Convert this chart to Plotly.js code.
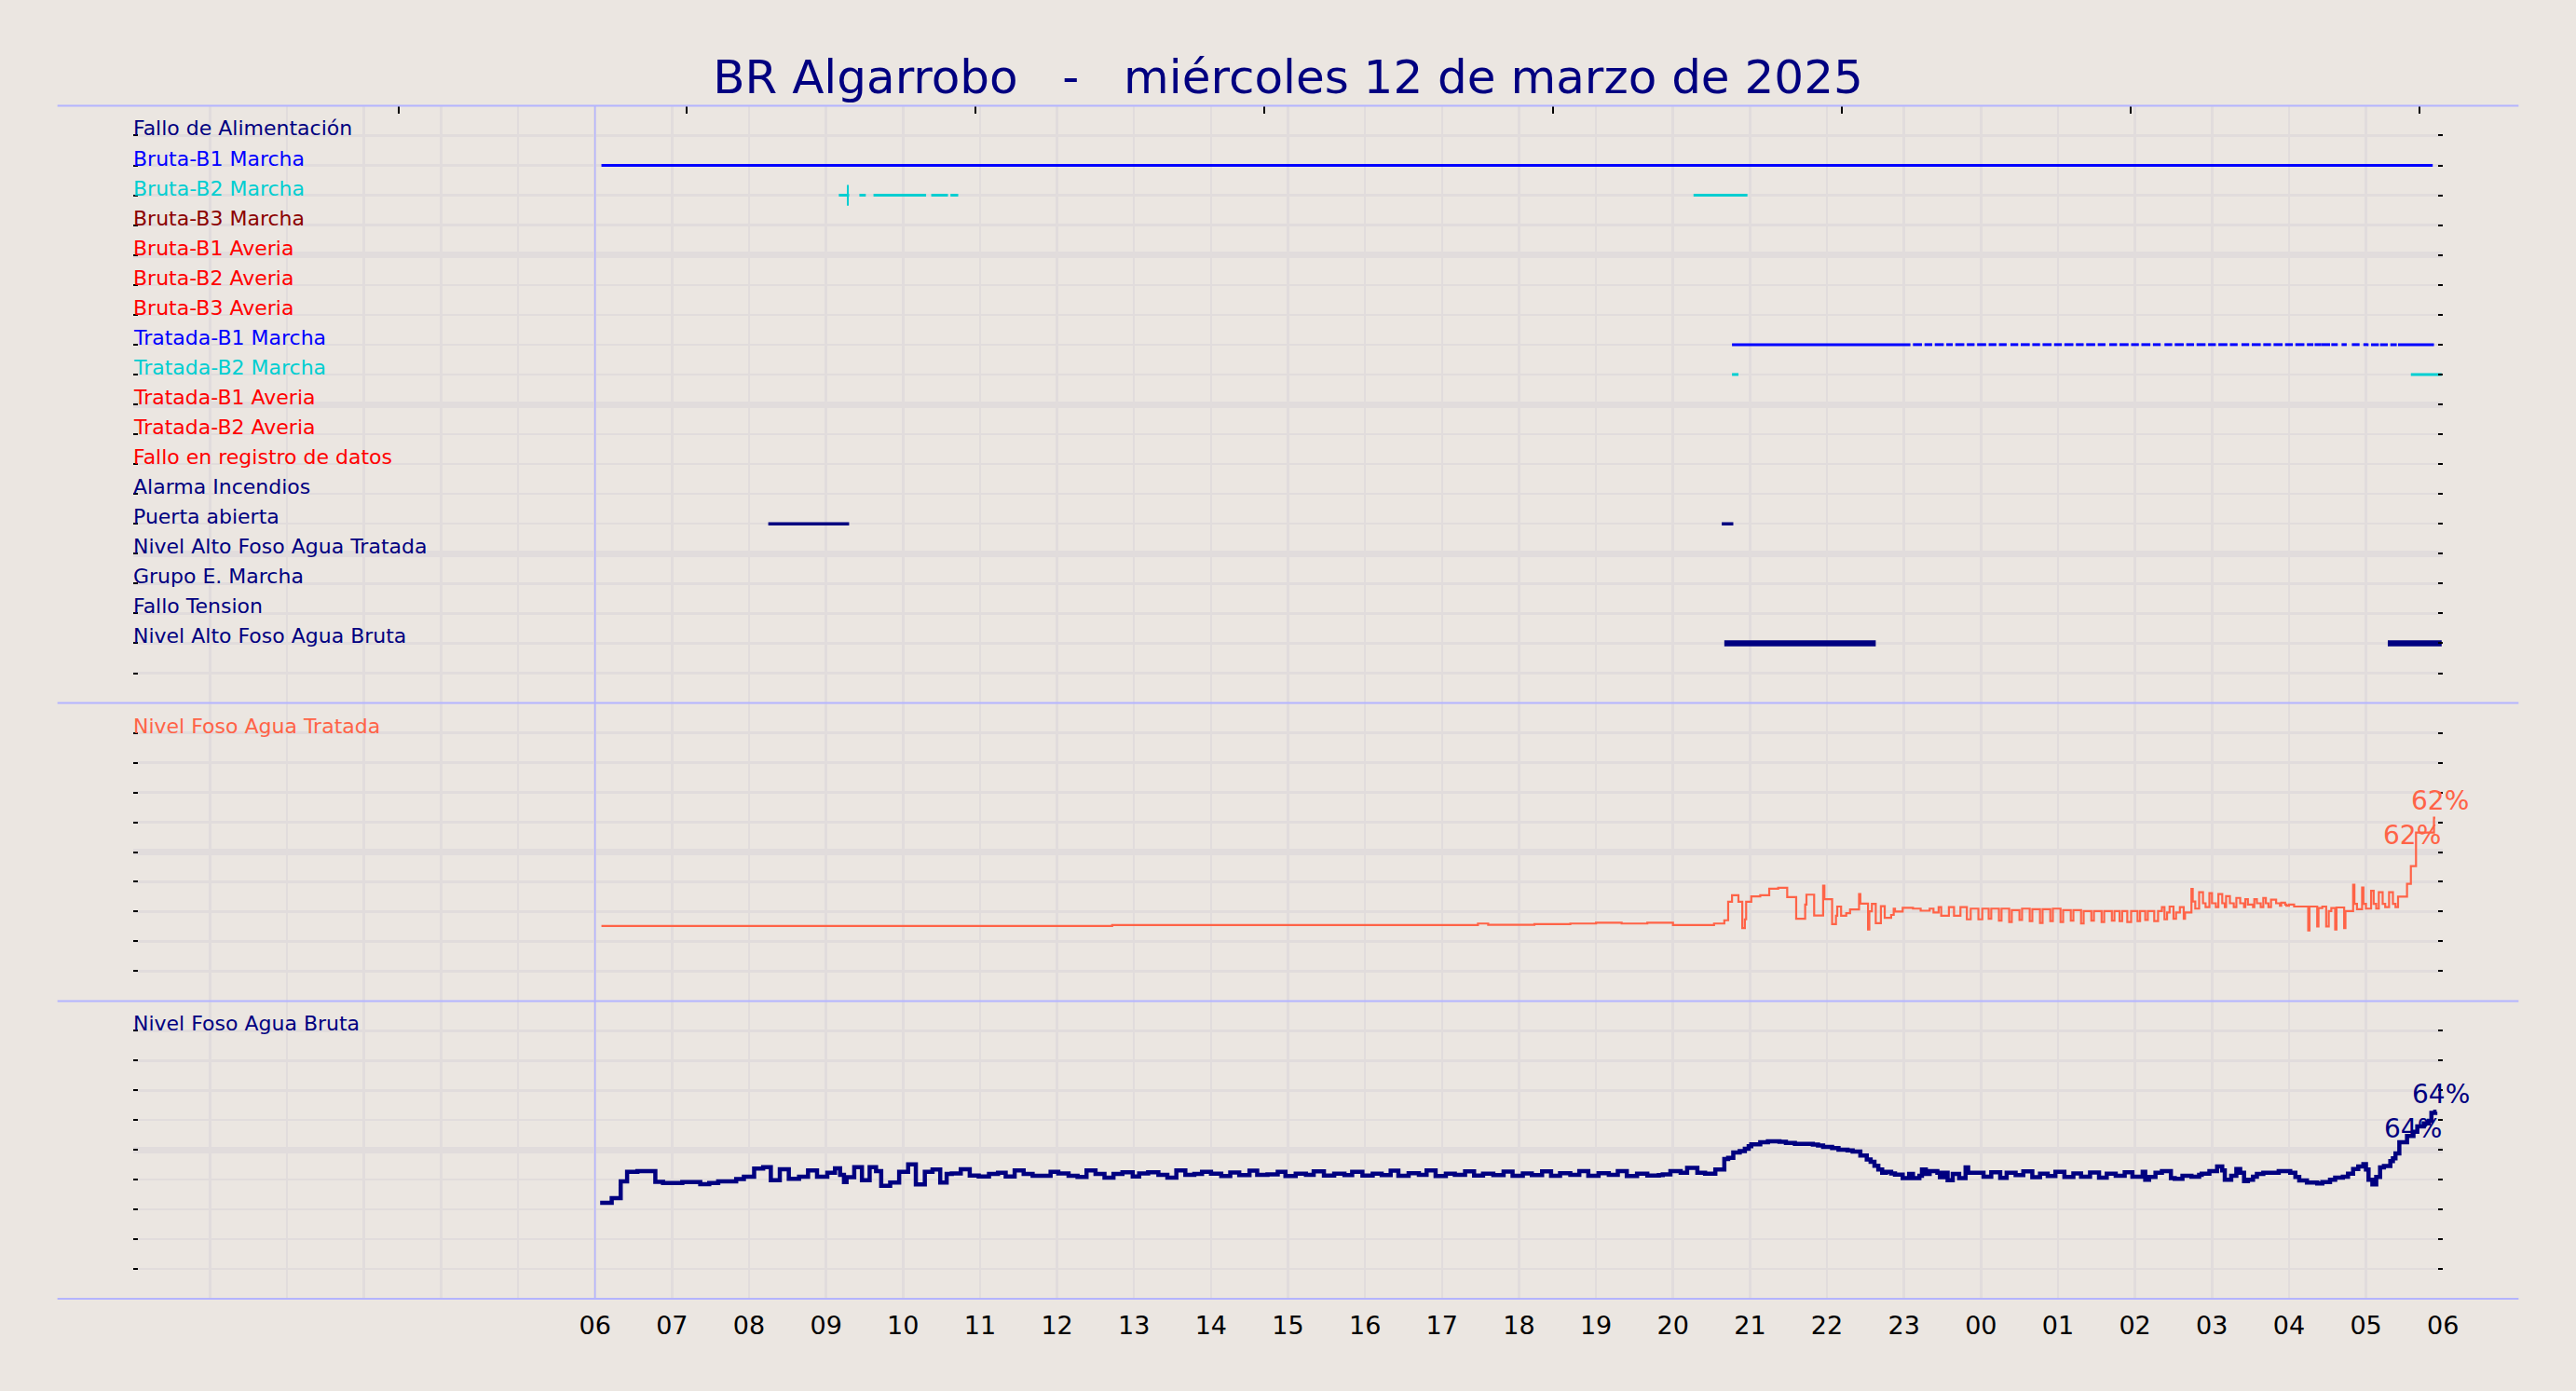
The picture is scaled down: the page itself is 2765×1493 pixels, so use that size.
<!DOCTYPE html>
<html><head><meta charset="utf-8">
<script src="https://cdn.plot.ly/plotly-3.0.1.min.js"></script>
<style>html,body{margin:0;padding:0;background:#ebe6e1;}</style>
</head><body><div id="chart" style="width:2765px;height:1493px;"></div>
<script>
// ---------------- DATA ----------------
const titleText = 'BR Algarrobo\u00a0\u00a0\u00a0-\u00a0\u00a0\u00a0miércoles 12 de marzo de 2025';
const dayStart = '2025-03-12';
const dayNext = '2025-03-13';

const signalNames = ['Fallo de Alimentación','Bruta-B1 Marcha','Bruta-B2 Marcha','Bruta-B3 Marcha',
  'Bruta-B1 Averia','Bruta-B2 Averia','Bruta-B3 Averia','Tratada-B1 Marcha','Tratada-B2 Marcha',
  'Tratada-B1 Averia','Tratada-B2 Averia','Fallo en registro de datos','Alarma Incendios',
  'Puerta abierta','Nivel Alto Foso Agua Tratada','Grupo E. Marcha','Fallo Tension','Nivel Alto Foso Agua Bruta'];
const signalColors = ['#000080','#0000ff','#00ced1','#8b0000','#ff0000','#ff0000','#ff0000','#0000ff','#00ced1',
  '#ff0000','#ff0000','#ff0000','#000080','#000080','#000080','#000080','#000080','#000080'];
const signalWidths = [3,3,3,3,3,3,3,3,3,3,3,3,3,3.5,3,3,3,6.5];

// on-intervals (start, end) per signal, HH:MM (hours < 06 belong to next day)
const falloAlimOn = [];
const brutaB1On = [['06:05','05:52']];
const brutaB2On = [['09:10','09:18'],['09:26','09:31'],['09:37','10:18'],['10:22','10:35'],['10:37','10:43'],['20:16','20:58']];
const brutaB2Blips = ['09:17'];
const brutaB3On = [];
const brutaB1AvOn = [];
const brutaB2AvOn = [];
const brutaB3AvOn = [];
const tratadaB1On = [['20:46','23:05'],['23:07','23:14'],['23:16','23:22'],['23:24','23:31'],['23:33','23:38'],
  ['23:40','23:47'],['23:49','23:55'],['23:57','00:04'],['00:06','00:12'],['00:14','00:20'],['00:23','00:29'],
  ['00:31','00:38'],['00:40','00:46'],['00:48','00:55'],['00:57','01:03'],['01:05','01:12'],['01:14','01:20'],
  ['01:22','01:29'],['01:31','01:37'],['01:40','01:46'],['01:48','01:55'],['01:57','02:03'],['02:05','02:12'],
  ['02:14','02:20'],['02:23','02:29'],['02:31','02:38'],['02:40','02:46'],['02:48','02:55'],['02:57','03:03'],
  ['03:05','03:12'],['03:14','03:20'],['03:23','03:29'],['03:31','03:38'],['03:40','03:46'],['03:48','03:55'],
  ['03:57','04:03'],['04:05','04:12'],['04:14','04:19'],['04:20','04:25'],['04:25','04:32'],['04:33','04:38'],
  ['04:41','04:45'],['04:49','04:55'],['04:58','05:02'],['05:04','05:10'],['05:11','05:17'],['05:19','05:24'],['05:25','05:53']];
const tratadaB2On = [['20:46','20:51'],['05:35','05:59']];
const tratadaB1AvOn = [];
const tratadaB2AvOn = [];
const falloRegistroOn = [];
const alarmaIncOn = [];
const puertaOn = [['08:15','09:18'],['20:38','20:47']];
const nivelAltoTratOn = [];
const grupoEOn = [];
const falloTensionOn = [];
const nivelAltoBrutaOn = [['20:40','22:38'],['05:17','05:59']];

// Nivel Foso Agua Tratada (%)
const tratadaTimes = ['06:05','12:43','17:28','17:36','18:12','18:40','19:00','19:20','19:40','20:00','20:32','20:40','20:43','20:46','20:51','20:54','20:56','20:57','21:01','21:08','21:15','21:22','21:29','21:36','21:43','21:44','21:50','21:57','21:58','22:04','22:07','22:08','22:11','22:15','22:18','22:25','22:26','22:32','22:33','22:35','22:38','22:42','22:45','22:50','22:52','22:53','22:59','23:07','23:13','23:20','23:23','23:27','23:29','23:35','23:39','23:44','23:49','23:52','23:55','23:58','00:01','00:06','00:08','00:14','00:16','00:22','00:24','00:30','00:32','00:38','00:40','00:46','00:48','00:54','00:56','01:02','01:04','01:10','01:12','01:18','01:20','01:26','01:28','01:34','01:36','01:42','01:44','01:48','01:50','01:54','01:57','02:02','02:04','02:08','02:10','02:15','02:18','02:21','02:23','02:25','02:27','02:30','02:32','02:35','02:38','02:39','02:44','02:45','02:47','02:50','02:53','02:55','02:58','03:00','03:03','03:05','03:08','03:10','03:11','03:14','03:17','03:19','03:22','03:25','03:26','03:28','03:32','03:33','03:35','03:38','03:40','03:42','03:44','03:46','03:50','03:53','03:54','03:57','03:58','04:00','04:04','04:15','04:16','04:22','04:23','04:26','04:29','04:31','04:33','04:36','04:37','04:43','04:44','04:50','04:51','04:53','04:57','04:58','05:00','05:04','05:06','05:08','05:10','05:13','05:15','05:18','05:21','05:23','05:25','05:32','05:35','05:39','05:53','05:54'];
const tratadaValues = [25.2,25.5,26.0,25.6,25.8,26.0,26.3,26.0,26.3,25.5,26.0,27.1,33.3,35.5,33.3,24.5,27.4,33.3,35.1,35.5,37.7,38.0,34.9,27.6,32.4,35.7,28.7,38.7,34.2,25.8,28.6,31.7,28.6,29.5,30.7,35.9,32.7,24.0,30.1,32.6,26.1,31.8,27.9,28.9,31.0,30.0,31.3,31.0,30.3,31.0,29.7,31.5,28.6,31.5,28.6,31.5,27.4,31.0,31.0,27.4,31.0,27.6,31.0,27.0,31.0,26.5,30.5,27.2,31.0,26.8,30.8,26.2,30.8,26.8,31.0,26.5,30.5,27.0,30.5,26.0,30.2,27.0,30.2,26.5,30.2,27.0,30.2,26.8,30.2,26.5,30.2,26.8,30.2,27.2,30.2,26.8,30.2,31.5,27.4,29.7,31.7,27.6,29.7,31.5,27.6,29.7,37.6,33.4,31.0,36.5,32.8,31.5,36.2,32.8,31.5,35.9,32.8,31.5,35.2,32.8,31.5,34.6,32.8,31.5,34.2,32.4,31.5,34.2,32.8,31.5,34.6,32.8,31.5,34.0,32.8,32.0,33.0,32.4,32.0,32.4,31.7,23.7,31.7,25.0,31.2,31.7,25.0,30.2,31.2,24.0,31.4,24.5,30.2,39.0,32.6,30.8,38.1,32.6,31.0,37.0,32.6,31.0,36.5,32.6,31.5,36.5,32.6,31.5,35.0,39.3,45.3,56.5,61.5,61.5];

// Nivel Foso Agua Bruta (%)
const brutaTimes = ['06:04','06:13','06:20','06:25','06:33','06:47','06:53','07:08','07:22','07:29','07:36','07:50','07:56','08:04','08:11','08:17','08:24','08:31','08:39','08:46','08:53','09:01','09:07','09:11','09:14','09:16','09:22','09:28','09:34','09:39','09:43','09:50','09:57','10:04','10:10','10:17','10:23','10:29','10:34','10:38','10:45','10:52','10:59','11:07','11:14','11:20','11:27','11:34','11:41','11:55','12:01','12:09','12:16','12:23','12:30','12:37','12:44','12:51','12:59','13:04','13:11','13:19','13:26','13:33','13:40','13:47','13:53','14:00','14:08','14:15','14:22','14:30','14:36','14:44','14:52','14:58','15:06','15:14','15:20','15:28','15:36','15:44','15:50','15:58','16:06','16:13','16:20','16:26','16:34','16:42','16:48','16:55','17:03','17:10','17:18','17:25','17:32','17:40','17:48','17:55','18:03','18:10','18:18','18:25','18:32','18:40','18:47','18:54','19:02','19:10','19:17','19:24','19:32','19:40','19:49','19:52','19:58','20:06','20:11','20:19','20:25','20:33','20:40','20:43','20:47','20:52','20:56','20:59','21:01','21:08','21:14','21:23','21:28','21:35','21:49','21:53','21:57','22:04','22:09','22:16','22:20','22:26','22:31','22:34','22:37','22:40','22:43','22:46','22:50','22:53','22:59','23:04','23:07','23:12','23:14','23:17','23:20','23:26','23:28','23:31','23:34','23:38','23:43','23:48','23:50','23:55','00:02','00:08','00:15','00:20','00:27','00:33','00:40','00:46','00:52','00:58','01:05','01:12','01:18','01:25','01:32','01:38','01:45','01:52','01:58','02:06','02:08','02:11','02:16','02:21','02:28','02:31','02:37','02:44','02:50','02:52','02:58','03:04','03:08','03:10','03:15','03:19','03:22','03:25','03:28','03:32','03:35','03:40','03:52','04:01','04:05','04:08','04:14','04:22','04:26','04:32','04:36','04:42','04:46','04:50','04:54','04:58','05:00','05:02','05:05','05:08','05:11','05:14','05:19','05:21','05:23','05:26','05:32','05:37','05:40','05:45','05:49','05:51','05:54','05:55'];
const brutaValues = [32.2,33.8,39.4,42.6,42.9,39.3,38.9,39.2,38.5,38.9,39.4,40.2,41.0,43.7,44.2,39.8,43.5,40.3,41.0,43.1,41.0,42.3,43.8,41.6,39.2,40.8,44.2,39.8,44.2,42.9,37.9,39.0,42.6,45.1,38.4,42.6,43.4,39.0,41.9,42.1,43.5,41.4,41.1,41.9,42.3,41.1,43.1,41.9,41.3,42.6,42.1,41.3,40.9,43.1,41.9,40.7,41.9,42.5,41.1,42.1,42.5,41.6,40.7,43.1,41.6,41.9,42.6,42.0,41.2,42.4,41.5,43.0,41.6,41.8,42.6,41.2,42.0,41.6,42.8,41.4,42.0,41.5,42.6,41.4,42.0,41.5,43.0,41.3,42.2,41.6,43.1,41.2,42.0,41.6,42.8,41.4,42.0,41.5,42.7,41.3,42.1,41.5,42.8,41.3,42.2,41.6,42.9,41.3,42.2,41.6,42.9,41.2,42.0,41.4,41.5,41.8,42.9,42.3,44.0,42.3,42.0,43.4,46.9,47.3,49.1,49.6,50.4,51.2,51.9,52.6,52.9,52.7,52.3,52.0,51.8,51.5,51.0,50.6,50.1,49.8,49.4,48.1,46.8,46.0,44.7,43.4,42.3,42.6,42.1,41.7,40.5,41.9,40.5,41.3,43.4,41.9,42.9,42.3,40.8,42.3,39.8,41.9,40.5,44.1,42.3,42.3,41.0,42.5,40.6,42.3,41.5,42.8,40.8,42.0,41.2,42.6,40.9,42.1,41.0,42.4,40.7,42.0,41.3,42.5,41.0,42.6,40.0,40.9,42.3,42.9,40.5,40.3,41.3,41.0,41.6,42.0,42.9,44.4,43.1,40.0,41.3,43.6,42.3,39.5,40.0,41.0,41.9,42.3,42.9,42.3,40.9,39.7,39.0,38.7,39.2,40.0,40.7,41.0,42.0,43.6,44.4,45.2,43.4,40.0,38.4,40.9,44.1,44.6,46.2,47.2,48.8,52.6,54.7,56.1,57.9,58.9,59.8,62.4,62.8,62.8];

// labels written at the last reading of each level series
const lastLevelLabels = ['62%','64%'];
const hourLabels = ['','','','','','','06','07','08','09','10','11','12','13','14','15','16','17','18','19','20','21','22','23','00','01','02','03','04','05','06'];
const tratadaLabel = 'Nivel Foso Agua Tratada';
const brutaLabel = 'Nivel Foso Agua Bruta';

// ---------------- STYLE ----------------
const BG = '#ebe6e1';
const GRID = '#e1dcdc';
const LAV = '#b4b4ff';
const NAVY = '#000080';
const TOMATO = '#ff6347';
const FONT = 'DejaVu Sans';
const XD = [142.8/2765, 2622.2/2765];
const Y_TOP = [1-754.6/1493, 1-113.4/1493];
const Y_MID = [1-1074.4/1493, 1-754.6/1493];
const Y_BOT = [1-1394/1493, 1-1074.4/1493];

function pad(n){return (n<10?'0':'')+n;}
function toDate(hhmm){
  const p = hhmm.split(':').map(Number);
  const d = p[0] < 6 ? dayNext : dayStart;
  return d+' '+pad(p[0])+':'+pad(p[1])+':00';
}

const signalIntervals = [falloAlimOn,brutaB1On,brutaB2On,brutaB3On,brutaB1AvOn,brutaB2AvOn,brutaB3AvOn,
  tratadaB1On,tratadaB2On,tratadaB1AvOn,tratadaB2AvOn,falloRegistroOn,alarmaIncOn,puertaOn,
  nivelAltoTratOn,grupoEOn,falloTensionOn,nivelAltoBrutaOn];

const traces = [];
const annotations = [];
signalNames.forEach((name,i)=>{
  const row = 19 - i;
  const xs=[], ys=[];
  signalIntervals[i].forEach(iv=>{ xs.push(toDate(iv[0]),toDate(iv[1]),null); ys.push(row,row,null); });
  traces.push({x:xs,y:ys,type:'scatter',mode:'lines',xaxis:'x',yaxis:'y',hoverinfo:'skip',
    line:{color:signalColors[i],width:signalWidths[i]},connectgaps:false});
  annotations.push({text:name,xref:'paper',yref:'y',x:XD[0],y:row,xanchor:'left',yanchor:'bottom',
    xshift:-2,yshift:-7,showarrow:false,font:{family:FONT,size:22,color:signalColors[i]}});
});
// short vertical blip on Bruta-B2 row
traces.push({x:brutaB2Blips.map(toDate),y:brutaB2Blips.map(()=>19-2),type:'scatter',mode:'markers',xaxis:'x',yaxis:'y',hoverinfo:'skip',
  marker:{symbol:'line-ns',size:16,line:{color:signalColors[2],width:2}}});

const tx = tratadaTimes.map(toDate), bx = brutaTimes.map(toDate);
traces.push({x:tx,y:tratadaValues,type:'scatter',mode:'lines',line:{color:TOMATO,width:2.2,shape:'hv'},xaxis:'x',yaxis:'y2',hoverinfo:'skip'});
traces.push({x:bx,y:brutaValues,type:'scatter',mode:'lines',line:{color:NAVY,width:4.5,shape:'hv'},xaxis:'x',yaxis:'y3',hoverinfo:'skip'});
traces.push({x:[],y:[],type:'scatter',mode:'lines',xaxis:'x2',yaxis:'y',hoverinfo:'skip'});

annotations.push({text:tratadaLabel,xref:'paper',yref:'y2',x:XD[0],y:90,xanchor:'left',yanchor:'bottom',xshift:-2,yshift:-7,showarrow:false,font:{family:FONT,size:22,color:TOMATO}});
annotations.push({text:brutaLabel,xref:'paper',yref:'y3',x:XD[0],y:90,xanchor:'left',yanchor:'bottom',xshift:-2,yshift:-7,showarrow:false,font:{family:FONT,size:22,color:NAVY}});

function lastLabels(xs, vals, txt, color, yref){
  const lx = xs[xs.length-1], lv = vals[vals.length-1];
  annotations.push({text:txt,xref:'x',yref:yref,x:lx,y:lv,xanchor:'center',yanchor:'bottom',xshift:5,showarrow:false,font:{family:FONT,size:28,color:color}});
  annotations.push({text:txt,xref:'x',yref:yref,x:lx,y:lv,xanchor:'right',yanchor:'top',xshift:8,showarrow:false,font:{family:FONT,size:28,color:color}});
}
lastLabels(tx, tratadaValues, lastLevelLabels[0], TOMATO, 'y2');
lastLabels(bx, brutaValues, lastLevelLabels[1], NAVY, 'y3');

const tickVals = hourLabels.map((l,h)=> h<24 ? dayStart+' '+pad(h)+':00:00' : dayNext+' '+pad(h-24)+':00:00');

const yCommon = {showticklabels:false,ticks:'inside',ticklen:5,tickwidth:2,tickcolor:'black',mirror:'ticks',
  showline:false,zeroline:false,gridcolor:GRID,gridwidth:7,fixedrange:true,anchor:'x'};
const minorCommon = {ticks:'inside',ticklen:5,tickwidth:2,tickcolor:'black',showgrid:true,gridcolor:GRID,gridwidth:2.5};

const shapes = [];
[Y_TOP[1],Y_TOP[0],Y_MID[0],Y_BOT[0]].forEach(y=>{
  shapes.push({type:'line',xref:'paper',yref:'paper',x0:0.0223,x1:0.9777,y0:y,y1:y,line:{color:LAV,width:2}});
});
shapes.push({type:'line',xref:'x',yref:'paper',x0:toDate('06:00'),x1:toDate('06:00'),y0:Y_BOT[0],y1:Y_TOP[1],line:{color:LAV,width:1.5}});

const layout = {
  width:2765,height:1493,paper_bgcolor:BG,plot_bgcolor:BG,
  margin:{l:0,r:0,t:0,b:0},showlegend:false,
  title:{text:titleText,font:{family:FONT,size:50,color:NAVY},x:0.5,xref:'container',y:1-82/1493,yref:'container',yanchor:'middle',xanchor:'center'},
  xaxis:{domain:XD,anchor:'y3',type:'date',range:[dayStart+' 00:00:00',dayNext+' 06:00:00'],
    tickmode:'array',tickvals:tickVals,ticktext:hourLabels,ticks:'',showline:false,zeroline:false,
    showgrid:true,gridcolor:GRID,gridwidth:2.5,tickfont:{family:FONT,size:27,color:'black'},ticklabelstandoff:10,fixedrange:true},
  xaxis2:{domain:XD,anchor:'y',overlaying:'x',side:'top',range:[0,30],tick0:3.445,dtick:3.75,ticks:'inside',ticklen:9,tickwidth:2,
    tickcolor:'black',showticklabels:false,showgrid:false,zeroline:false,showline:false,fixedrange:true},
  yaxis:Object.assign({},yCommon,{domain:Y_TOP,range:[0,20],tick0:0,dtick:5,minor:Object.assign({},minorCommon,{tick0:0,dtick:1})}),
  yaxis2:Object.assign({},yCommon,{domain:Y_MID,range:[0,100],tick0:0,dtick:50,minor:Object.assign({},minorCommon,{tick0:0,dtick:10})}),
  yaxis3:Object.assign({},yCommon,{domain:Y_BOT,range:[0,100],tick0:0,dtick:50,minor:Object.assign({},minorCommon,{tick0:0,dtick:10})}),
  annotations:annotations,shapes:shapes
};
Plotly.newPlot('chart',traces,layout,{staticPlot:true,displayModeBar:false});
</script></body></html>
